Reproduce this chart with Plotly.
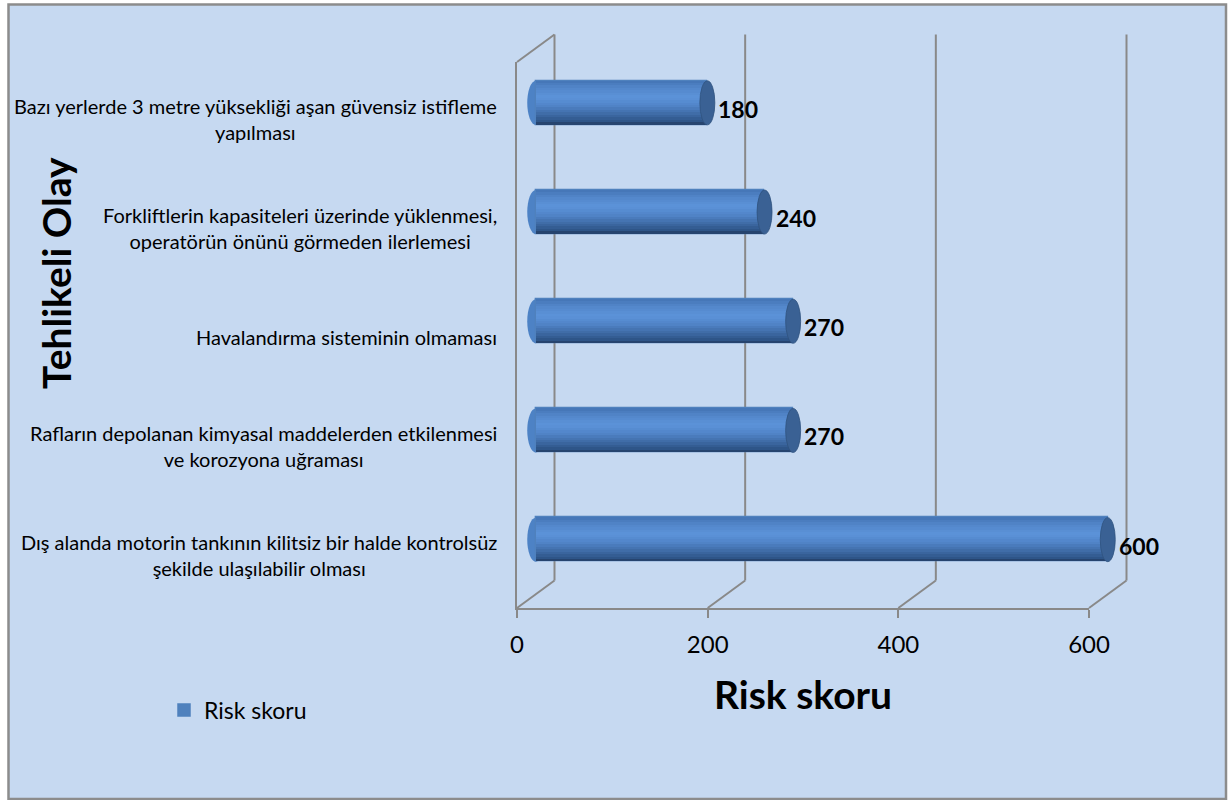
import plotly.graph_objects as go

# ---- data -------------------------------------------------------------
CATEGORIES = [
    "Bazı yerlerde 3 metre yüksekliği aşan güvensiz istifleme<br>yapılması",
    "Forkliftlerin kapasiteleri üzerinde yüklenmesi,<br>operatörün önünü görmeden ilerlemesi",
    "Havalandırma sisteminin olmaması",
    "Rafların depolanan kimyasal maddelerden etkilenmesi<br>ve korozyona uğraması",
    "Dış alanda motorin tankının kilitsiz bir halde kontrolsüz<br>şekilde ulaşılabilir olması",
]
RISK = [180, 240, 270, 270, 600]
TICKS = [0, 200, 400, 600]
SERIES_NAME = "Risk skoru"
X_TITLE = "Risk skoru"
Y_TITLE = "Tehlikeli Olay"

# ---- geometry (pixels) ---------------------------------------------------
W, H = 1228, 800
FX0, FX1 = 517, 1089          # front plane, value 0 .. max
FTOP, FFLOOR = 62, 608        # front plane, top .. floor
DX, DY = 37.5, 27.5           # depth offset of the back wall
BAR_THICK = 0.403             # bar thickness in category units
XMAX = TICKS[-1]
XPAD = 30                     # room for the cylinder caps on the bar axis
N = len(CATEGORIES)

FONT = "Lato"
GRID = "#898989"
BG = "#C6D9F1"


def px(x):
    return x / W


def py(y):
    return 1 - y / H


def fx(v):
    return FX0 + (FX1 - FX0) * v / XMAX


def mx(v):
    # value -> pixel on the mid-depth plane where the bars stand
    return fx(v) + DX / 2


def lerp_hex(c1, c2, t):
    a = [int(c1[i:i + 2], 16) for i in (1, 3, 5)]
    b = [int(c2[i:i + 2], 16) for i in (1, 3, 5)]
    return "#" + "".join(f"{round(a[i] + (b[i] - a[i]) * t):02x}" for i in range(3))


# vertical shading of the cylinder (top -> bottom)
STOPS = [(0.0, "#4474b4"), (0.18, "#5387cb"), (0.38, "#5c93d9"),
         (0.58, "#5083c7"), (0.78, "#3d69a3"), (0.92, "#2e5587"), (1.0, "#213b62")]


def shade(t):
    for (t0, c0), (t1, c1) in zip(STOPS, STOPS[1:]):
        if t <= t1:
            return lerp_hex(c0, c1, (t - t0) / (t1 - t0))
    return STOPS[-1][1]


ypos = list(range(N))
fig = go.Figure()

# series trace (also provides the legend entry)
fig.add_trace(go.Bar(
    x=RISK, y=ypos, orientation="h", name=SERIES_NAME, width=BAR_THICK,
    marker=dict(color="#4F81BD", line=dict(width=1.5, color="#4F81BD")), showlegend=True,
    hoverinfo="skip",
))

# shading bands laid over the series bars
BANDS = 18
bw = BAR_THICK / BANDS
for k in range(BANDS):
    width = bw * 1.35 if k < BANDS - 1 else bw
    fig.add_trace(go.Bar(
        x=RISK, y=ypos, orientation="h", width=width,
        offset=-BAR_THICK / 2 + k * bw,
        marker=dict(color=shade((k + 0.5) / BANDS), line=dict(width=0)),
        showlegend=False, hoverinfo="skip",
    ))

shapes = []
# chart area background and border
shapes.append(dict(type="rect", xref="paper", yref="paper",
                   x0=px(8.5), x1=px(1226), y0=py(799), y1=py(4.5),
                   fillcolor=BG, line=dict(color="#8c8c8c", width=2.5), layer="below"))

# back wall gridlines and floor diagonals
for v in TICKS:
    shapes.append(dict(type="line", xref="paper", yref="paper",
                       x0=px(fx(v) + DX), x1=px(fx(v) + DX),
                       y0=py(FTOP - DY), y1=py(FFLOOR - DY),
                       line=dict(color=GRID, width=2), layer="below"))
    shapes.append(dict(type="line", xref="paper", yref="paper",
                       x0=px(fx(v)), x1=px(fx(v) + DX),
                       y0=py(FFLOOR), y1=py(FFLOOR - DY),
                       line=dict(color=GRID, width=2), layer="below"))
# top edge of the side wall
shapes.append(dict(type="line", xref="paper", yref="paper",
                   x0=px(fx(0)), x1=px(fx(0) + DX),
                   y0=py(FTOP), y1=py(FTOP - DY),
                   line=dict(color=GRID, width=2), layer="below"))

# cylinder end caps
for i, v in enumerate(RISK):
    shapes.append(dict(type="circle", xref="x", yref="y", xsizemode="pixel",
                       xanchor=0, x0=-8.5, x1=8.5,
                       y0=i - BAR_THICK / 2, y1=i + BAR_THICK / 2,
                       fillcolor="#4d82c5", line=dict(width=0), layer="below"))
    shapes.append(dict(type="circle", xref="x", yref="y", xsizemode="pixel",
                       xanchor=v, x0=-7.5, x1=7.5,
                       y0=i - BAR_THICK / 2, y1=i + BAR_THICK / 2,
                       fillcolor="#3a6194", line=dict(color="#30537f", width=0.8),
                       layer="above"))

annotations = []
# category labels
for i, c in enumerate(CATEGORIES):
    annotations.append(dict(text=c, xref="paper", yref="y2", x=px(499), y=i,
                            xanchor="right", yanchor="middle", align="center",
                            showarrow=False, yshift=-2,
                            font=dict(family=FONT, size=20, color="#000")))
# value labels
for i, v in enumerate(RISK):
    annotations.append(dict(text=str(v), xref="x", yref="y", x=v, y=i,
                            xanchor="left", yanchor="middle", xshift=9, yshift=-6,
                            showarrow=False,
                            font=dict(family=FONT, size=23, color="#000", weight="bold")))
# axis titles
annotations.append(dict(text=f"<b>{Y_TITLE}</b>", xref="paper", yref="paper",
                        x=px(56), y=py(273), textangle=-90, showarrow=False,
                        xanchor="center", yanchor="middle",
                        font=dict(family=FONT, size=39, color="#000")))
annotations.append(dict(text=f"<b>{X_TITLE}</b>", xref="paper", yref="paper",
                        x=px(803), y=py(694), showarrow=False,
                        xanchor="center", yanchor="middle",
                        font=dict(family=FONT, size=39, color="#000")))

fig.update_layout(
    width=W, height=H, autosize=False,
    margin=dict(l=0, r=0, t=0, b=0, pad=0, autoexpand=False),
    paper_bgcolor="white", plot_bgcolor="rgba(0,0,0,0)",
    barmode="overlay", bargap=0,
    font=dict(family=FONT, color="#000"),
    # bars sit halfway into the depth of the box
    xaxis=dict(domain=[px(mx(-XPAD)), px(mx(XMAX + XPAD))], range=[-XPAD, XMAX + XPAD],
               visible=False, anchor="y", fixedrange=True, automargin=False),
    yaxis=dict(domain=[py(FFLOOR - DY / 2), py(FTOP - DY / 2)], range=[N - 0.5, -0.5],
               visible=False, anchor="x", fixedrange=True, automargin=False),
    # front plane axes
    xaxis2=dict(domain=[px(FX0), px(FX1)], range=[0, XMAX], anchor="y2",
                tickvals=TICKS, ticks="outside", ticklen=8, tickwidth=2, tickcolor=GRID,
                ticklabelstandoff=6, automargin=False,
                showline=True, linecolor=GRID, linewidth=2, showgrid=False, zeroline=False,
                tickfont=dict(family=FONT, size=24, color="#000"), fixedrange=True),
    yaxis2=dict(domain=[py(FFLOOR), py(FTOP)], range=[N - 0.5, -0.5], anchor="x2",
                showline=True, linecolor=GRID, linewidth=2, showgrid=False, zeroline=False,
                showticklabels=False, ticks="", fixedrange=True, automargin=False),
    shapes=shapes,
    annotations=annotations,
    showlegend=True,
    legend=dict(x=px(164), y=py(710), xanchor="left", yanchor="middle",
                bgcolor="rgba(0,0,0,0)", font=dict(family=FONT, size=23, color="#000")),
)

fig.write_html("out.html")
